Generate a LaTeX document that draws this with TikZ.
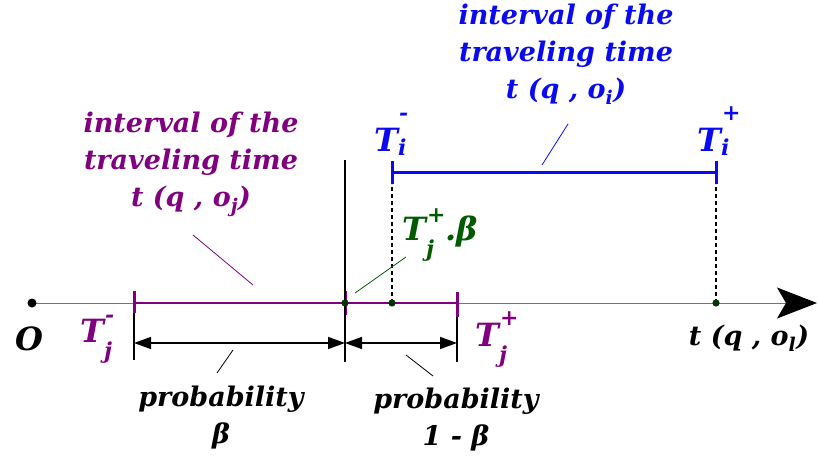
\documentclass[tikz,border=0pt]{standalone}
\usepackage{fontspec}
\usepackage{amsmath}
\setmainfont{DejaVu Serif}
\usetikzlibrary{arrows.meta}
\definecolor{pur}{RGB}{128,0,128}
\definecolor{blu}{RGB}{10,10,240}
\definecolor{grn}{RGB}{0,90,0}
\definecolor{dotg}{RGB}{0,55,0}
\newcommand\subsz{\fontsize{22}{22}\selectfont}
% base, sub, sup, sub lowering, sub kern, sup raise
\newcommand\ssup[6]{#1\ooalign{\kern1pt\raisebox{#6}{\subsz #3}\cr\kern#5\raisebox{-#4}{\subsz #2}\cr}}
\begin{document}
\begin{tikzpicture}[x=1pt,y=-1pt,
  lbl/.style={font=\fontsize{27}{37}\selectfont\bfseries\itshape, align=center, inner sep=0pt},
  bigl/.style={font=\fontsize{32}{34}\selectfont\bfseries\itshape, inner sep=0pt, anchor=base west},
  tickp/.style={pur, line width=3pt},
  tickb/.style={blu, line width=3pt},
  dimline/.style={black, line width=1.4pt},
  dimtip/.style={{Triangle[length=17pt,width=12pt]}-{Triangle[length=17pt,width=12pt]}},
  leader/.style={line width=0.8pt},
  dashv/.style={black, line width=1.3pt, dash pattern=on 4pt off 3pt}]
\useasboundingbox (0,0) rectangle (818,465);
% points
\coordinate (O) at (32,303);
\coordinate (axisend) at (817,303);
\coordinate (Tjm) at (134,303);
\coordinate (M) at (345,303);
\coordinate (P) at (392,303);
\coordinate (Tjp) at (457,303);
\coordinate (L) at (716,303);
\coordinate (Bi) at (392,172);
\coordinate (Be) at (716,172);
\coordinate (d1) at (134,343);
\coordinate (d2) at (345,343);
\coordinate (d3) at (457,343);
% axis
\draw[black!55, line width=1pt, -{Stealth[length=40pt,width=31pt,inset=9pt,black]}] (O) -- (axisend);
% purple interval
\draw[pur, line width=2pt] (Tjm) -- (Tjp);
\draw[tickp] (Tjm) ++(0,-12) -- ++(0,22);
\draw[tickp] (M) ++(0,-12) -- ++(0,24);
\draw[tickp] (Tjp) ++(0,-11) -- ++(0,25);
% black verticals
\draw[dimline] (M) ++(0,-143) -- ++(0,202);
\draw[dimline] (Tjm) ++(0,10) -- ++(0,47);
\draw[dimline] (Tjp) ++(0,14) -- ++(0,45);
% dimension arrows
\draw[dimline, dimtip] (d1) -- (d2);
\draw[dimline, dimtip] (d2) -- (d3);
% dashed
\draw[dashv] (P) -- (Bi |- 0,184);
\draw[dashv] (L) -- (Be |- 0,184);
% blue interval
\draw[blu, line width=3pt] (Bi) -- (Be);
\draw[tickb] (Bi) ++(0,-11) -- ++(0,23);
\draw[tickb] (Be) ++(0,-11) -- ++(0,23);
% dots
\fill[black] (O) circle (4.5);
\fill[dotg] (M) circle (3.6);
\fill[dotg] (P) circle (3.6);
\fill[dotg] (L) circle (3.6);
% labels
\node[bigl] (lO) at (15,350) {O};
\node[bigl, pur] (lTjm) at (80,342) {\ssup{T}{j}{-}{16pt}{0pt}{20pt}};
\node[bigl, pur] (lTjp) at (475,346) {\ssup{T}{j}{+}{16pt}{0pt}{21pt}};
\node[bigl, blu] (lTim) at (374,152) {\ssup{T}{i}{-}{4pt}{0pt}{31pt}};
\node[bigl, blu] (lTip) at (697,152) {\ssup{T}{i}{+}{4pt}{0pt}{31pt}};
\node[bigl, grn] (lTb) at (402,240) {\ssup{T}{j}{+}{16pt}{0pt}{18pt}.β};
\node[lbl] (ltl) at (749,338) {t (q , o$_{\text{l}}$)};
\node[lbl, blu] (lblue) at (566,54) {interval of the\\traveling time\\t (q , o$_{\text{i}}$)};
\node[lbl, pur] (lpur) at (191,164) {interval of the\\traveling time\\t (q , o$_{\text{j}}$)};
\node[lbl] (lpb) at (221,418) {probability\\β};
\node[lbl] (lpb2) at (456,420) {probability\\1 - β};
% leaders
\coordinate (a1) at (193,235); \coordinate (a2) at (253,285);
\draw[leader, pur] (a1) -- (a2);
\coordinate (b1) at (568,124); \coordinate (b2) at (542,165);
\draw[leader, blu] (b1) -- (b2);
\coordinate (g1) at (355,293); \coordinate (g2) at (406,257);
\draw[leader, grn] (g1) -- (g2);
\coordinate (k1) at (233,350); \coordinate (k2) at (217,373);
\draw[leader] (k1) -- (k2);
\coordinate (k3) at (406,355); \coordinate (k4) at (433,376);
\draw[leader] (k3) -- (k4);
\end{tikzpicture}
\end{document}
